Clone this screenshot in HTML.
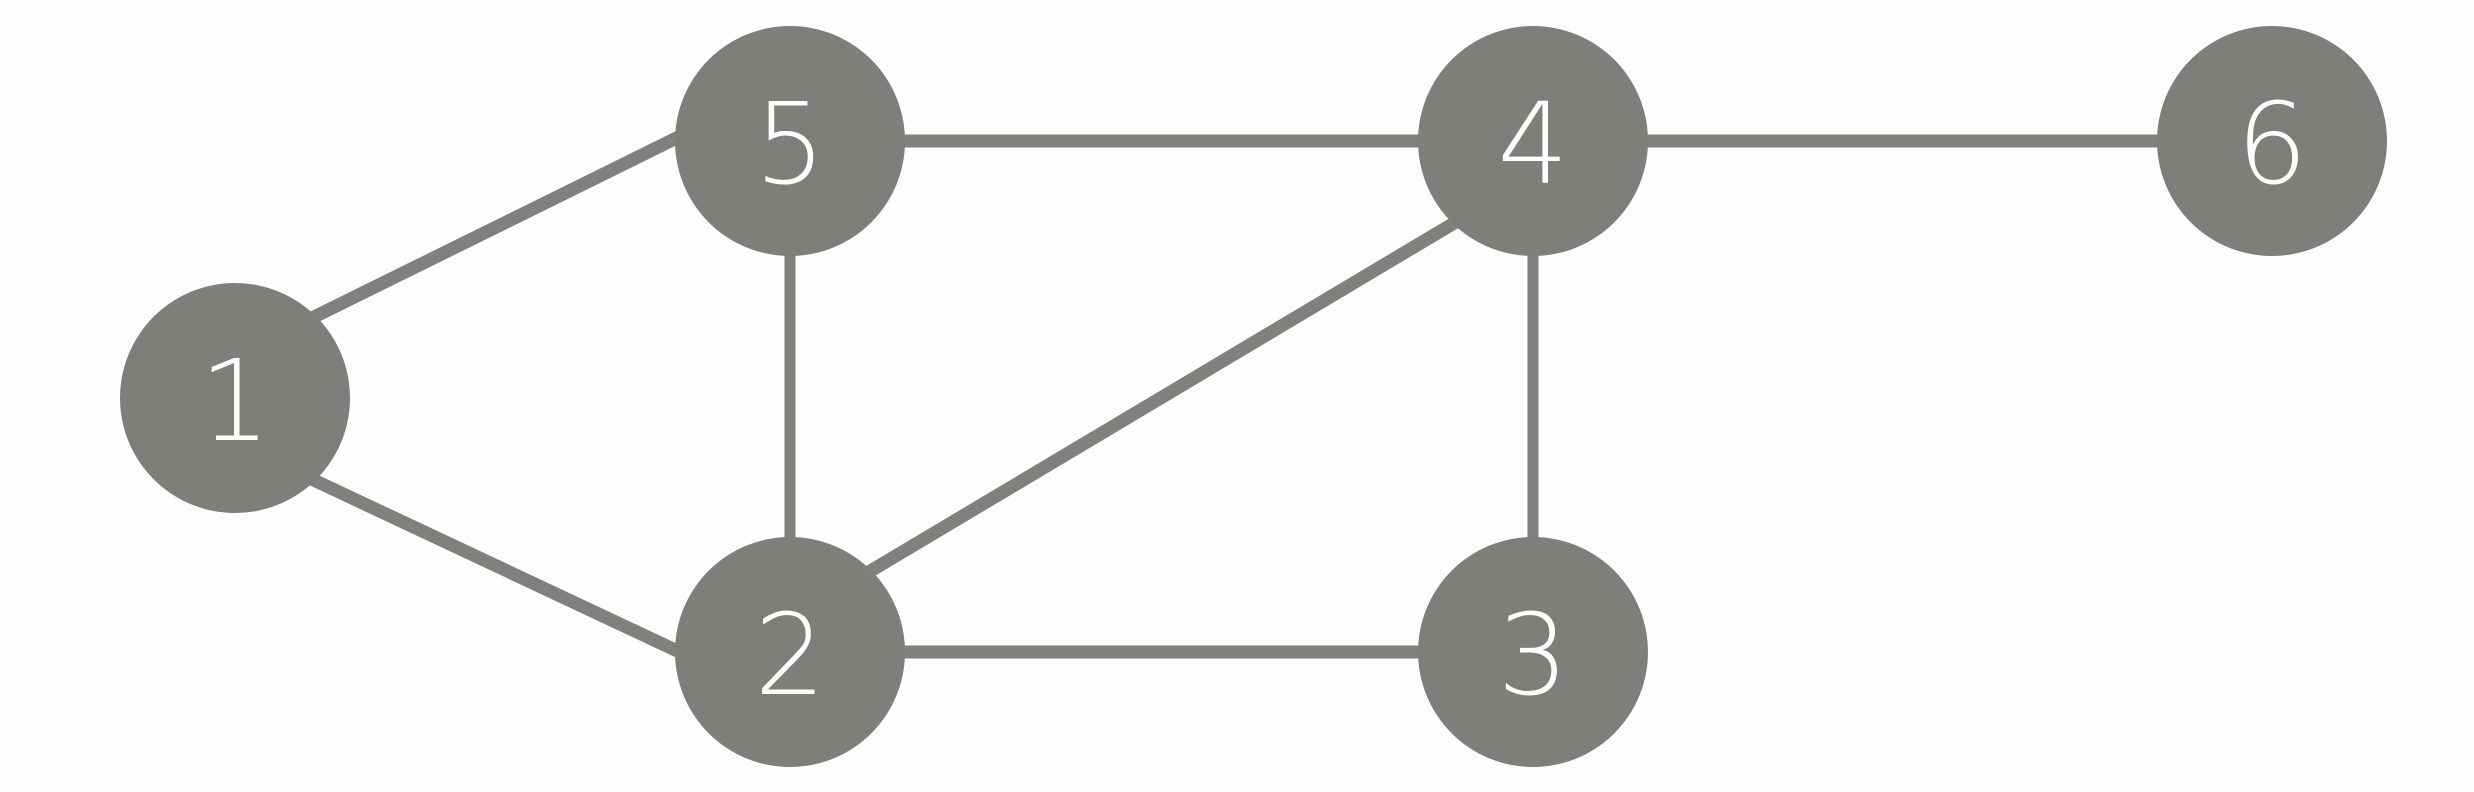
<!DOCTYPE html>
<html><head><meta charset="utf-8"><style>
html,body{margin:0;padding:0;background:#fdfdfd;}
svg{display:block;}
</style></head><body>
<svg id="graph" width="2474" height="792" viewBox="0 0 2474 792" xmlns="http://www.w3.org/2000/svg">
<rect width="2474" height="792" fill="#fdfdfd"/>
<g id="edges"></g>
<g id="nodes"></g>
</svg>
<script>
const nodeIds = ["1","2","3","4","5","6"];
const nodeX = [235, 790, 1533, 1533, 790, 2272];
const nodeY = [398, 652, 652, 141, 141, 141];
const edgeFrom = ["1","1","5","5","2","2","4","4"];
const edgeTo   = ["5","2","4","2","4","3","3","6"];
const edgeFromDy = [-42, 45, 0, 0, -33, 0, 0, 0];
const edgeToDy   = [-59, 52, 0, 0, 35, 0, 0, 0];
const R = 115;
const NS = "http://www.w3.org/2000/svg";
const eg = document.getElementById('edges');
const ng = document.getElementById('nodes');
function idx(id){return nodeIds.indexOf(id);}
for (let i=0;i<edgeFrom.length;i++){
  const a=idx(edgeFrom[i]), b=idx(edgeTo[i]);
  const l=document.createElementNS(NS,'line');
  l.setAttribute('x1',nodeX[a]);l.setAttribute('y1',nodeY[a]+edgeFromDy[i]);
  l.setAttribute('x2',nodeX[b]);l.setAttribute('y2',nodeY[b]+edgeToDy[i]);
  l.setAttribute('stroke','#80817c');
  l.setAttribute('stroke-width', nodeX[a]===nodeX[b] ? 11 : 13);
  
  
  eg.appendChild(l);
}
for (let i=0;i<nodeIds.length;i++){
  const g=document.createElementNS(NS,'g');
  
  
  const c=document.createElementNS(NS,'circle');
  c.setAttribute('cx',nodeX[i]);c.setAttribute('cy',nodeY[i]);c.setAttribute('r',R);
  c.setAttribute('fill','#7d7f7a');
  
  
  const t=document.createElementNS(NS,'text');
  t.setAttribute('x',nodeX[i]);t.setAttribute('y',nodeY[i]+42);
  t.setAttribute('text-anchor','middle');
  t.setAttribute('font-family','"DejaVu Sans", "Liberation Sans", sans-serif');
  t.setAttribute('font-size','112');
  t.setAttribute('font-weight','200');
  t.setAttribute('fill','#ffffff');
  
  
  t.textContent=nodeIds[i];
  g.appendChild(c);g.appendChild(t);
  ng.appendChild(g);
}
</script>
</body></html>
